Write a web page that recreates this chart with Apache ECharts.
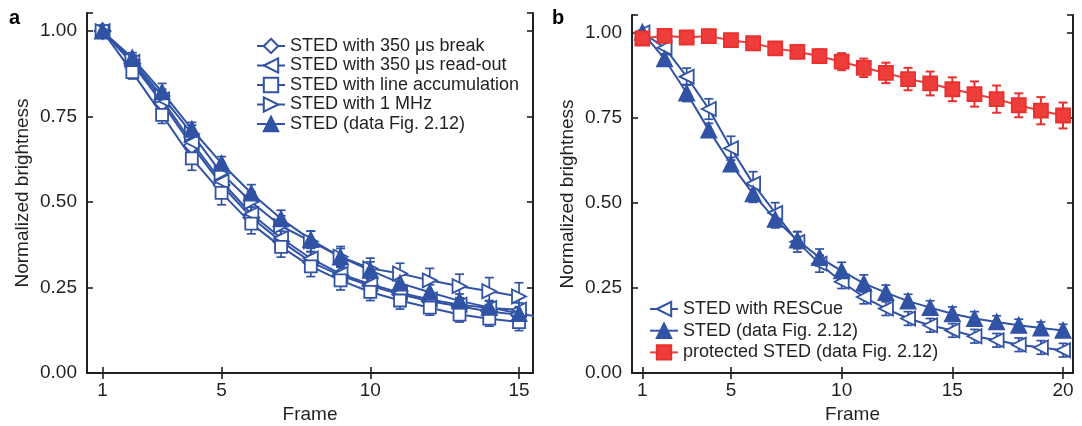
<!DOCTYPE html>
<html>
<head>
<meta charset="utf-8">
<script src="https://cdn.jsdelivr.net/npm/echarts@6/dist/echarts.min.js"></script>
<style>
  html, body { margin: 0; padding: 0; background: #fff; }
  #chart { width: 1082px; height: 426px; }
</style>
</head>
<body>
<div id="chart"></div>
<script>
// frames
var framesA = [1, 2, 3, 4, 5, 6, 7, 8, 9, 10, 11, 12, 13, 14, 15, 16];
var framesB = [1, 2, 3, 4, 5, 6, 7, 8, 9, 10, 11, 12, 13, 14, 15, 16, 17, 18, 19, 20];
var tickFramesA = [1, 5, 10, 15];
var tickFramesB = [1, 5, 10, 15, 20];

// panel a
var breakVals = [1.0, 0.905, 0.79, 0.665, 0.55, 0.455, 0.385, 0.325, 0.285, 0.255, 0.23, 0.21, 0.195, 0.18, 0.17];
var breakErr = [0.005, 0.015, 0.02, 0.025, 0.03, 0.03, 0.03, 0.03, 0.025, 0.025, 0.02, 0.02, 0.02, 0.02, 0.02];
var readoutVals = [1.0, 0.91, 0.80, 0.675, 0.56, 0.465, 0.395, 0.335, 0.29, 0.26, 0.235, 0.215, 0.2, 0.19, 0.185];
var readoutErr = [0.005, 0.015, 0.02, 0.025, 0.03, 0.03, 0.03, 0.03, 0.025, 0.025, 0.02, 0.02, 0.02, 0.02, 0.02];
var lineAccVals = [1.0, 0.88, 0.755, 0.628, 0.527, 0.437, 0.369, 0.312, 0.271, 0.237, 0.212, 0.191, 0.171, 0.159, 0.149];
var lineAccErr = [0.005, 0.02, 0.025, 0.035, 0.035, 0.03, 0.03, 0.03, 0.028, 0.025, 0.025, 0.022, 0.022, 0.022, 0.025];
var mhzVals = [1.0, 0.915, 0.81, 0.70, 0.584, 0.50, 0.43, 0.385, 0.34, 0.306, 0.291, 0.271, 0.254, 0.239, 0.224];
var mhzErr = [0.005, 0.015, 0.02, 0.025, 0.03, 0.03, 0.03, 0.03, 0.03, 0.03, 0.03, 0.035, 0.035, 0.04, 0.04];

// shared: STED (data Fig. 2.12)
var stedVals = [1.0, 0.922, 0.822, 0.713, 0.613, 0.526, 0.451, 0.39, 0.339, 0.30, 0.263, 0.236, 0.211, 0.192, 0.174, 0.16, 0.15, 0.14, 0.132, 0.125];
var stedErr = [0.005, 0.015, 0.025, 0.02, 0.02, 0.025, 0.025, 0.025, 0.025, 0.025, 0.025, 0.022, 0.02, 0.02, 0.02, 0.02, 0.018, 0.018, 0.018, 0.018];

// panel b
var rescueVals = [1.0, 0.955, 0.87, 0.775, 0.66, 0.556, 0.47, 0.385, 0.321, 0.268, 0.223, 0.189, 0.16, 0.14, 0.125, 0.108, 0.096, 0.083, 0.075, 0.067];
var rescueErr = [0.005, 0.02, 0.025, 0.03, 0.035, 0.035, 0.03, 0.03, 0.025, 0.02, 0.02, 0.02, 0.02, 0.02, 0.02, 0.02, 0.02, 0.02, 0.02, 0.02];
var protVals = [0.982, 0.99, 0.985, 0.989, 0.977, 0.968, 0.953, 0.943, 0.93, 0.914, 0.896, 0.881, 0.863, 0.85, 0.833, 0.819, 0.804, 0.786, 0.77, 0.756];
var protErr = [0.005, 0.005, 0.005, 0.006, 0.008, 0.01, 0.015, 0.017, 0.02, 0.025, 0.027, 0.03, 0.033, 0.035, 0.035, 0.037, 0.04, 0.035, 0.04, 0.038];

var BLUE = '#3153a5';
var RED = '#e8312f';
var FONT = 'Liberation Sans, Arial, sans-serif';

function pts(frames, vals) {
  return vals.map(function (v, i) { return [frames[i], v]; });
}
function errPts(frames, vals, err) {
  return vals.map(function (v, i) { return [frames[i], v - err[i], v + err[i]]; });
}
function errRender(color, lw) {
  return function (params, api) {
    var x = api.value(0);
    var lo = api.coord([x, api.value(1)]);
    var hi = api.coord([x, api.value(2)]);
    var w = 4.5;
    var st = { stroke: color, lineWidth: lw };
    return {
      type: 'group',
      children: [
        { type: 'line', shape: { x1: lo[0], y1: lo[1], x2: hi[0], y2: hi[1] }, style: st },
        { type: 'line', shape: { x1: lo[0] - w, y1: lo[1], x2: lo[0] + w, y2: lo[1] }, style: st },
        { type: 'line', shape: { x1: hi[0] - w, y1: hi[1], x2: hi[0] + w, y2: hi[1] }, style: st }
      ]
    };
  };
}

function lineSeries(name, idx, data, symbol, size, rotate, filled, color, border) {
  return {
    name: name, type: 'line', xAxisIndex: idx * 2, yAxisIndex: idx * 2,
    data: data, symbol: symbol, symbolSize: size, symbolRotate: rotate,
    showAllSymbol: true, clip: true, z: 3,
    lineStyle: { color: color, width: 2 },
    itemStyle: { color: filled ? color : '#fff', borderColor: border || color, borderWidth: 1.8 }
  };
}
function errSeries(idx, data, color, lw) {
  return {
    type: 'custom', xAxisIndex: idx * 2, yAxisIndex: idx * 2, clip: true, z: 2,
    renderItem: errRender(color, lw || 1.7), data: data, silent: true
  };
}

function xAxes(gi, min, max, ticks) {
  var common = {
    type: 'value', gridIndex: gi, min: min, max: max,
    splitLine: { show: false },
    axisLine: { lineStyle: { color: '#231f20', width: 2 } },
    axisTick: { inside: true, length: 6, lineStyle: { color: '#231f20', width: 1.6 }, customValues: ticks }
  };
  return [
    Object.assign({}, common, {
      position: 'bottom', name: 'Frame', nameLocation: 'middle', nameGap: 31,
      nameTextStyle: { fontFamily: FONT, fontSize: 19, color: '#231f20' },
      axisLabel: { fontFamily: FONT, fontSize: 19, color: '#231f20', margin: 8, customValues: ticks }
    }),
    Object.assign({}, common, { position: 'top', axisLabel: { show: false } })
  ];
}
function yAxes(gi, max) {
  var common = {
    type: 'value', gridIndex: gi, min: 0, max: max, interval: 0.25,
    splitLine: { show: false },
    axisLine: { lineStyle: { color: '#231f20', width: 2 } },
    axisTick: { inside: true, length: 6, lineStyle: { color: '#231f20', width: 1.6 } }
  };
  return [
    Object.assign({}, common, {
      position: 'left', name: 'Normalized brightness', nameLocation: 'middle', nameGap: 55,
      nameTextStyle: { fontFamily: FONT, fontSize: 19, color: '#231f20' },
      axisLabel: {
        fontFamily: FONT, fontSize: 19, color: '#231f20', margin: 10,
        formatter: function (v) { return Math.abs(v / 0.25 - Math.round(v / 0.25)) < 1e-6 ? v.toFixed(2) : ''; }
      }
    }),
    Object.assign({}, common, { position: 'right', axisLabel: { show: false } })
  ];
}

var myChart = echarts.init(document.getElementById('chart'));
var option = {
  animation: false,
  grid: [
    { left: 87, top: 13, width: 446, height: 360, outerBoundsMode: 'none' },
    { left: 632, top: 15, width: 441, height: 358, outerBoundsMode: 'none' }
  ],
  xAxis: xAxes(0, 0.476, 15.47, tickFramesA).concat(xAxes(1, 0.53, 20.45, tickFramesB)),
  yAxis: yAxes(0, 1.053).concat(yAxes(1, 1.051)),
  legend: [
    {
      data: ['STED with 350 μs break', 'STED with 350 μs read-out', 'STED with line accumulation', 'STED with 1 MHz', 'STED (data Fig. 2.12)'],
      orient: 'vertical', left: 256, top: 37, padding: 0, itemWidth: 28, itemHeight: 18, itemGap: 1.5,
      textStyle: { fontFamily: FONT, fontSize: 18, color: '#231f20' }
    },
    {
      data: ['STED with RESCue', 'STED (data Fig. 2.12) ', 'protected STED (data Fig. 2.12)'],
      orient: 'vertical', left: 649, top: 300, padding: 0, itemWidth: 28, itemHeight: 18, itemGap: 3.7,
      textStyle: { fontFamily: FONT, fontSize: 18, color: '#231f20' }
    }
  ],
  graphic: [
    { type: 'text', left: 9, top: 8, style: { text: 'a', font: 'bold 20px ' + FONT, fill: '#000' } },
    { type: 'text', left: 552, top: 8, style: { text: 'b', font: 'bold 20px ' + FONT, fill: '#000' } }
  ],
  series: [
    errSeries(0, errPts(framesA, breakVals, breakErr), BLUE),
    errSeries(0, errPts(framesA, readoutVals, readoutErr), BLUE),
    errSeries(0, errPts(framesA, lineAccVals, lineAccErr), BLUE),
    errSeries(0, errPts(framesA, mhzVals, mhzErr), BLUE),
    errSeries(0, errPts(framesA, stedVals.slice(0, 16), stedErr.slice(0, 16)), BLUE),
    lineSeries('STED with 350 μs break', 0, pts(framesA, breakVals), 'diamond', 16, 0, false, BLUE),
    lineSeries('STED with 350 μs read-out', 0, pts(framesA, readoutVals), 'triangle', 14, 90, false, BLUE),
    lineSeries('STED with line accumulation', 0, pts(framesA, lineAccVals), 'rect', 12, 0, false, BLUE),
    lineSeries('STED with 1 MHz', 0, pts(framesA, mhzVals), 'triangle', 14, -90, false, BLUE),
    lineSeries('STED (data Fig. 2.12)', 0, pts(framesA, stedVals.slice(0, 16)), 'triangle', 15, 0, true, BLUE),

    errSeries(1, errPts(framesB, rescueVals, rescueErr), BLUE),
    errSeries(1, errPts(framesB, stedVals, stedErr), BLUE),
    errSeries(1, errPts(framesB, protVals, protErr), RED, 2),
    lineSeries('STED with RESCue', 1, pts(framesB, rescueVals), 'triangle', 14, 90, false, BLUE),
    lineSeries('STED (data Fig. 2.12) ', 1, pts(framesB, stedVals), 'triangle', 15, 0, true, BLUE),
    lineSeries('protected STED (data Fig. 2.12)', 1, pts(framesB, protVals), 'rect', 14, 0, true, '#ee3d3a', RED)
  ]
};
myChart.setOption(option);
window.addEventListener('resize', function () {
  myChart.resize();
});
</script>
</body>
</html>
